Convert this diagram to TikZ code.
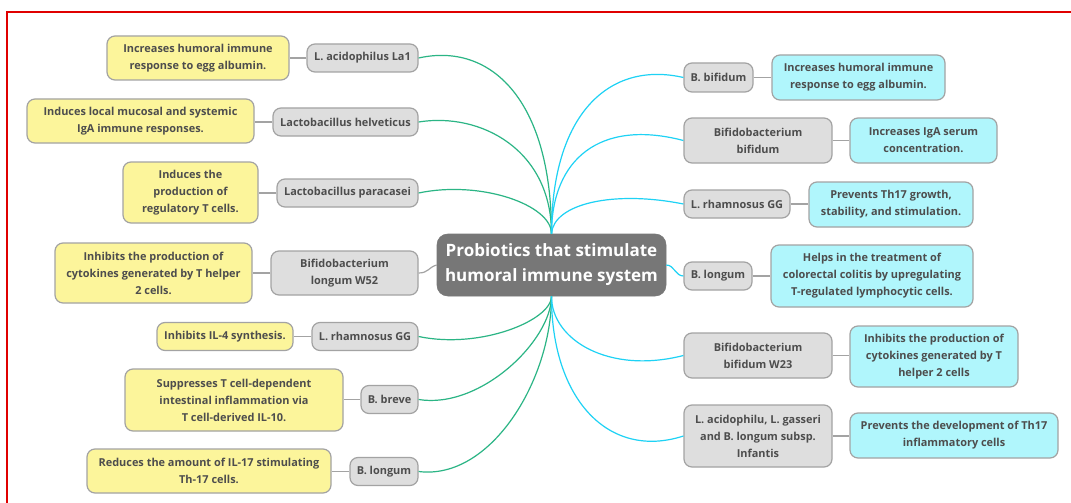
\documentclass[tikz,border=0pt]{standalone}
\usepackage{fontspec}
\setmainfont{Open Sans}
\usetikzlibrary{calc}
\definecolor{txt}{HTML}{4D4D4D}
\definecolor{ylw}{HTML}{FCF59B}
\definecolor{cyn}{HTML}{B0F6FC}
\definecolor{gfill}{HTML}{DEDEDE}
\definecolor{bord}{HTML}{A3A3A3}
\definecolor{grn}{HTML}{2BB585}
\definecolor{blu}{HTML}{1ED2F5}
\definecolor{cfill}{HTML}{777777}
\definecolor{redb}{HTML}{E00000}
\tikzset{
  wh/.style 2 args={minimum width=#1*0.75pt, minimum height=#2*0.75pt},
  base/.style={draw=bord, line width=0.9pt, rounded corners=6pt, align=center, text=txt,
    font=\bfseries\fontsize{8.2}{12.75}\selectfont, inner sep=1pt},
  sp/.style={base, fill=gfill},
  ef/.style={base, fill=ylw},
  ec/.style={base, fill=cyn},
  hub/.style={fill=cfill, draw=cfill, rounded corners=8pt, align=center, text=white,
    font=\bfseries\fontsize{12.75}{18.75}\selectfont, inner sep=1pt},
  link/.style={draw=bord, line width=0.9pt},
  gl/.style={draw=grn, line width=0.9pt},
  bl/.style={draw=blu, line width=0.9pt},
}
\begin{document}
\begin{tikzpicture}[x=0.75pt, y=-0.75pt]
\useasboundingbox (0,0) rectangle (1071,503);
\fill[white] (0,0) rectangle (1071,503);
\draw[redb, line width=1.3pt] (7,503) -- (7,12) -- (1071,12);

\node[hub, wh={229}{62}] (c) at (551.5,265) {Probiotics that stimulate\\humoral immune system};

% left side
\node[sp, wh={111}{28}] (g1) at (362.5,58) {L. acidophilus La1};
\node[ef, wh={182}{44}] (y1) at (198,58) {Increases humoral immune\\response to egg albumin.};
\node[sp, wh={145}{28}] (g2) at (345.5,122) {Lactobacillus helveticus};
\node[ef, wh={227}{44}] (y2) at (140.5,121) {Induces local mucosal and systemic\\IgA immune responses.};
\node[sp, wh={141}{28}] (g3) at (347.5,193) {Lactobacillus paracasei};
\node[ef, wh={135}{61}] (y3) at (190.5,192.5) {Induces the\\production of\\regulatory T cells.};
\node[sp, wh={147}{44}] (g4) at (344.5,273) {Bifidobacterium\\longum W52};
\node[ef, wh={197}{60}] (y4) at (153.5,273) {Inhibits the production of\\cytokines generated by T helper\\2 cells.};
\node[sp, wh={106}{28}] (g5) at (365,336.5) {L. rhamnosus GG};
\node[ef, wh={136}{28}] (y5) at (225,336.5) {Inhibits IL-4 synthesis.};
\node[sp, wh={57}{28}] (g6) at (389.5,399.5) {B. breve};
\node[ef, wh={218}{62}] (y6) at (234,400) {Suppresses T cell-dependent\\intestinal inflammation via\\T cell-derived IL-10.};
\node[sp, wh={68}{28}] (g7) at (384,471.5) {B. longum};
\node[ef, wh={244}{44}] (y7) at (209,471) {Reduces the amount of IL-17 stimulating\\Th-17 cells.};

% right side
\node[sp, wh={69}{29}] (r1) at (718.5,77.5) {B. bifidum};
\node[ec, wh={173}{45}] (c1) at (858.5,77.5) {Increases humoral immune\\response to egg albumin.};
\node[sp, wh={148}{45}] (r2) at (758,140.5) {Bifidobacterium\\bifidum};
\node[ec, wh={147}{45}] (c2) at (923.5,140.5) {Increases IgA serum\\concentration.};
\node[sp, wh={106}{28}] (r3) at (737,204) {L. rhamnosus GG};
\node[ec, wh={164}{45}] (c3) at (891,204.5) {Prevents Th17 growth,\\stability, and stimulation.};
\node[sp, wh={68}{28}] (r4) at (718,276) {B. longum};
\node[ec, wh={202}{62}] (c4) at (872,276) {Helps in the treatment of\\colorectal colitis by upregulating\\T-regulated lymphocytic cells.};
\node[sp, wh={148}{45}] (r5) at (758,355.5) {Bifidobacterium\\bifidum W23};
\node[ec, wh={168}{61}] (c5) at (934,356.5) {Inhibits the production of\\cytokines generated by T\\helper 2 cells};
\node[sp, wh={148}{62}] (r6) at (758,436) {L. acidophilu, L. gasseri\\and B. longum subsp.\\Infantis};
\node[ec, wh={208}{45}] (c6) at (954,435.5) {Prevents the development of Th17\\inflammatory cells};

% short links
\foreach \a/\b in {g1/y1,g2/y2,g3/y3,g4/y4,g5/y5,g6/y6,g7/y7}
  \draw[link] (\a.west) -- (\b.east |- \a.west);
\foreach \a/\b in {r1/c1,r2/c2,r3/c3,r4/c4,r5/c5,r6/c6}
  \draw[link] (\a.east) -- (\b.west |- \a.east);

% main branches
\draw[gl] (g1.east) .. controls +(72,-16) and +(0,-134) .. (c.north);
\draw[gl] (g2.east) .. controls +(62,-10) and +(0,-84) .. (c.north);
\draw[gl] (g3.east) .. controls +(62,-13) and +(0,-29) .. (c.north);
\draw[gl] (g5.east) .. controls +(62,13) and +(0,24) .. (c.south);
\draw[gl] (g6.east) .. controls +(62,10) and +(0,44) .. (c.south);
\draw[gl] (g7.east) .. controls +(72,9) and +(0,84) .. (c.south);
\draw[link] (g4.east) .. controls +(10,0) and +(-8,2) .. (c.west);

\draw[bl] (c.north) .. controls +(0,-120) and +(-74,-17) .. (r1.west);
\draw[bl] (c.north) .. controls +(0,-74) and +(-84,-22) .. (r2.west);
\draw[bl] (c.north) .. controls +(2,-30) and +(-70,-14) .. (r3.west);
\draw[bl] (c.east) .. controls +(8,0) and +(-8,0) .. (r4.west);
\draw[bl] (c.south) .. controls +(0,44) and +(-74,19) .. (r5.west);
\draw[bl] (c.south) .. controls +(0,104) and +(-74,24) .. (r6.west);
\end{tikzpicture}
\end{document}
